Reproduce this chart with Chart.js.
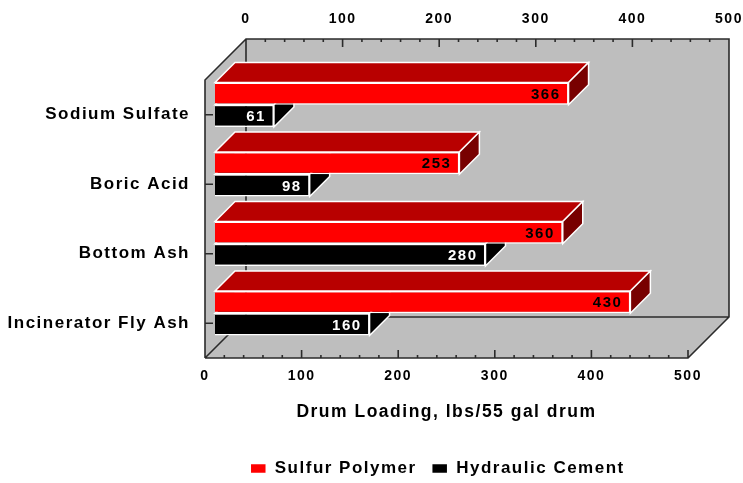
<!DOCTYPE html>
<html>
<head>
<meta charset="utf-8">
<style>
  html, body { margin: 0; padding: 0; background: #fff; }
  canvas { display: block; filter: blur(0.4px); }
</style>
<script src="https://cdn.jsdelivr.net/npm/chart.js@4/dist/chart.umd.js"></script>
</head>
<body>
<canvas id="drumChart" width="743" height="483"></canvas>
<script>
const categories = ["Sodium Sulfate", "Boric Acid", "Bottom Ash", "Incinerator Fly Ash"];
const sulfurPolymer = [366, 253, 360, 430];
const hydraulicCement = [61, 98, 280, 160];
const axisMax = 500;
const majorStep = 100;
const minorStep = 20;

const FONT = "'Liberation Sans', Arial, sans-serif";
const wallDepth = 41;  // how far the back wall sits behind the front plane
const barShift = 10;   // bars stand a little way into the floor
const barDepth = 20;
const frameColor = "#2b2b2b";

function setSpacing(chart) {
  chart.ctx.letterSpacing = "1.5px";
}

// back wall, floor, side wall and tick marks
function drawFrame(chart) {
  const { ctx, chartArea: a } = chart;
  const x = chart.scales.x;
  ctx.save();
  ctx.fillStyle = "#bebebe";
  ctx.beginPath();
  ctx.moveTo(a.left, a.top);
  ctx.lineTo(a.left + wallDepth, a.top - wallDepth);
  ctx.lineTo(a.right + wallDepth, a.top - wallDepth);
  ctx.lineTo(a.right + wallDepth, a.bottom - wallDepth);
  ctx.lineTo(a.right, a.bottom);
  ctx.lineTo(a.left, a.bottom);
  ctx.closePath();
  ctx.fill();

  ctx.strokeStyle = frameColor;
  ctx.lineWidth = 1.6;
  ctx.beginPath();
  ctx.moveTo(a.left, a.bottom);
  ctx.lineTo(a.left, a.top);
  ctx.lineTo(a.left + wallDepth, a.top - wallDepth);
  ctx.lineTo(a.right + wallDepth, a.top - wallDepth);
  ctx.lineTo(a.right + wallDepth, a.bottom - wallDepth);
  ctx.lineTo(a.right, a.bottom);
  ctx.lineTo(a.left, a.bottom);
  ctx.moveTo(a.left, a.bottom);
  ctx.lineTo(a.left + wallDepth, a.bottom - wallDepth);
  ctx.lineTo(a.right + wallDepth, a.bottom - wallDepth);
  ctx.moveTo(a.left + wallDepth, a.top - wallDepth);
  ctx.lineTo(a.left + wallDepth, a.bottom - wallDepth);

  for (let v = 0; v <= axisMax; v += minorStep) {
    const len = v % majorStep === 0 ? 8 : 3;
    const px = x.getPixelForValue(v);
    ctx.moveTo(px, a.bottom);
    ctx.lineTo(px, a.bottom - len);
    ctx.moveTo(px + wallDepth, a.top - wallDepth);
    ctx.lineTo(px + wallDepth, a.top - wallDepth + len);
  }
  chart.scales.y.ticks.forEach((t, i) => {
    const py = chart.scales.y.getPixelForTick(i);
    ctx.moveTo(a.left, py);
    ctx.lineTo(a.left + 8, py);
  });
  ctx.stroke();

  // top axis numbers, same scale pushed back to the wall
  ctx.fillStyle = "#000";
  ctx.font = "bold 14px " + FONT;
  ctx.textAlign = "center";
  ctx.textBaseline = "middle";
  for (let v = 0; v <= axisMax; v += majorStep) {
    ctx.fillText(String(v), x.getPixelForValue(v) + wallDepth, 19);
  }
  ctx.restore();
}

function face(ctx, pts, fill) {
  ctx.fillStyle = fill;
  ctx.beginPath();
  pts.forEach((p, i) => (i ? ctx.lineTo(p[0], p[1]) : ctx.moveTo(p[0], p[1])));
  ctx.closePath();
  ctx.fill();
  ctx.stroke();
}

const bars3d = {
  id: "bars3d",
  beforeInit: setSpacing,
  beforeUpdate: setSpacing,
  beforeDraw: setSpacing,
  afterLayout(chart) {
    chart.legend.left -= 9;
    chart.legend.right -= 9;
    chart.legend.top += 4;
    chart.legend.bottom += 4;
  },
  beforeDatasetsDraw(chart) {
    drawFrame(chart);
  },
  beforeDatasetDraw(chart, args) {
    const { ctx } = chart;
    const ds = chart.data.datasets[args.index];
    ctx.save();
    ctx.translate(barShift, -barShift);
    ctx.strokeStyle = "#fff";
    ctx.lineWidth = 1.5;
    args.meta.data.forEach((bar) => {
      const top = bar.y - bar.height / 2;
      const bottom = bar.y + bar.height / 2;
      face(ctx, [[bar.base, top], [bar.x, top], [bar.x + barDepth, top - barDepth], [bar.base + barDepth, top - barDepth]], ds.topColor);
      face(ctx, [[bar.x, top], [bar.x + barDepth, top - barDepth], [bar.x + barDepth, bottom - barDepth], [bar.x, bottom]], ds.sideColor);
    });
  },
  afterDatasetDraw(chart, args) {
    const { ctx } = chart;
    const ds = chart.data.datasets[args.index];
    ctx.fillStyle = ds.labelColor;
    ctx.font = "bold 15px " + FONT;
    ctx.textAlign = "right";
    ctx.textBaseline = "middle";
    args.meta.data.forEach((bar, i) => {
      ctx.fillText(String(ds.data[i]), bar.x - 8, bar.y + 1);
    });
    ctx.restore();
  },
};

new Chart(document.getElementById("drumChart"), {
  type: "bar",
  plugins: [bars3d],
  data: {
    labels: categories,
    datasets: [
      {
        label: "Sulfur Polymer",
        data: sulfurPolymer,
        backgroundColor: "#ff0000",
        borderColor: "#fff",
        borderWidth: 1.5,
        topColor: "#b80000",
        sideColor: "#780000",
        labelColor: "#000",
        clip: false,
      },
      {
        label: "Hydraulic Cement",
        data: hydraulicCement,
        backgroundColor: "#000",
        borderColor: "#fff",
        borderWidth: 1.5,
        topColor: "#000",
        sideColor: "#000",
        labelColor: "#fff",
        clip: false,
      },
    ],
  },
  options: {
    indexAxis: "y",
    responsive: false,
    animation: false,
    layout: { padding: { top: 80, right: 55, left: 0, bottom: 0 } },
    categoryPercentage: 0.64,
    barPercentage: 1,
    scales: {
      x: {
        min: 0,
        max: axisMax,
        grid: { display: false },
        border: { display: false },
        afterFit(scale) { scale.height = 83; },
        ticks: {
          stepSize: majorStep,
          maxRotation: 0,
          padding: 2,
          color: "#000",
          font: { family: FONT, size: 14, weight: "bold" },
        },
        title: {
          display: true,
          text: "Drum Loading, lbs/55 gal drum",
          color: "#000",
          font: { family: FONT, size: 17.5, weight: "bold" },
          padding: { top: 0, bottom: 18 },
        },
      },
      y: {
        grid: { display: false },
        border: { display: false },
        afterFit(scale) { scale.width = 205; },
        ticks: {
          padding: 7,
          color: "#000",
          font: { family: FONT, size: 17, weight: "bold" },
        },
      },
    },
    plugins: {
      tooltip: { enabled: false },
      legend: {
        position: "bottom",
        fullSize: false,
        labels: {
          boxWidth: 16,
          boxHeight: 10,
          padding: 15,
          color: "#000",
          font: { family: FONT, size: 17, weight: "bold" },
        },
      },
    },
  },
});
</script>
</body>
</html>
